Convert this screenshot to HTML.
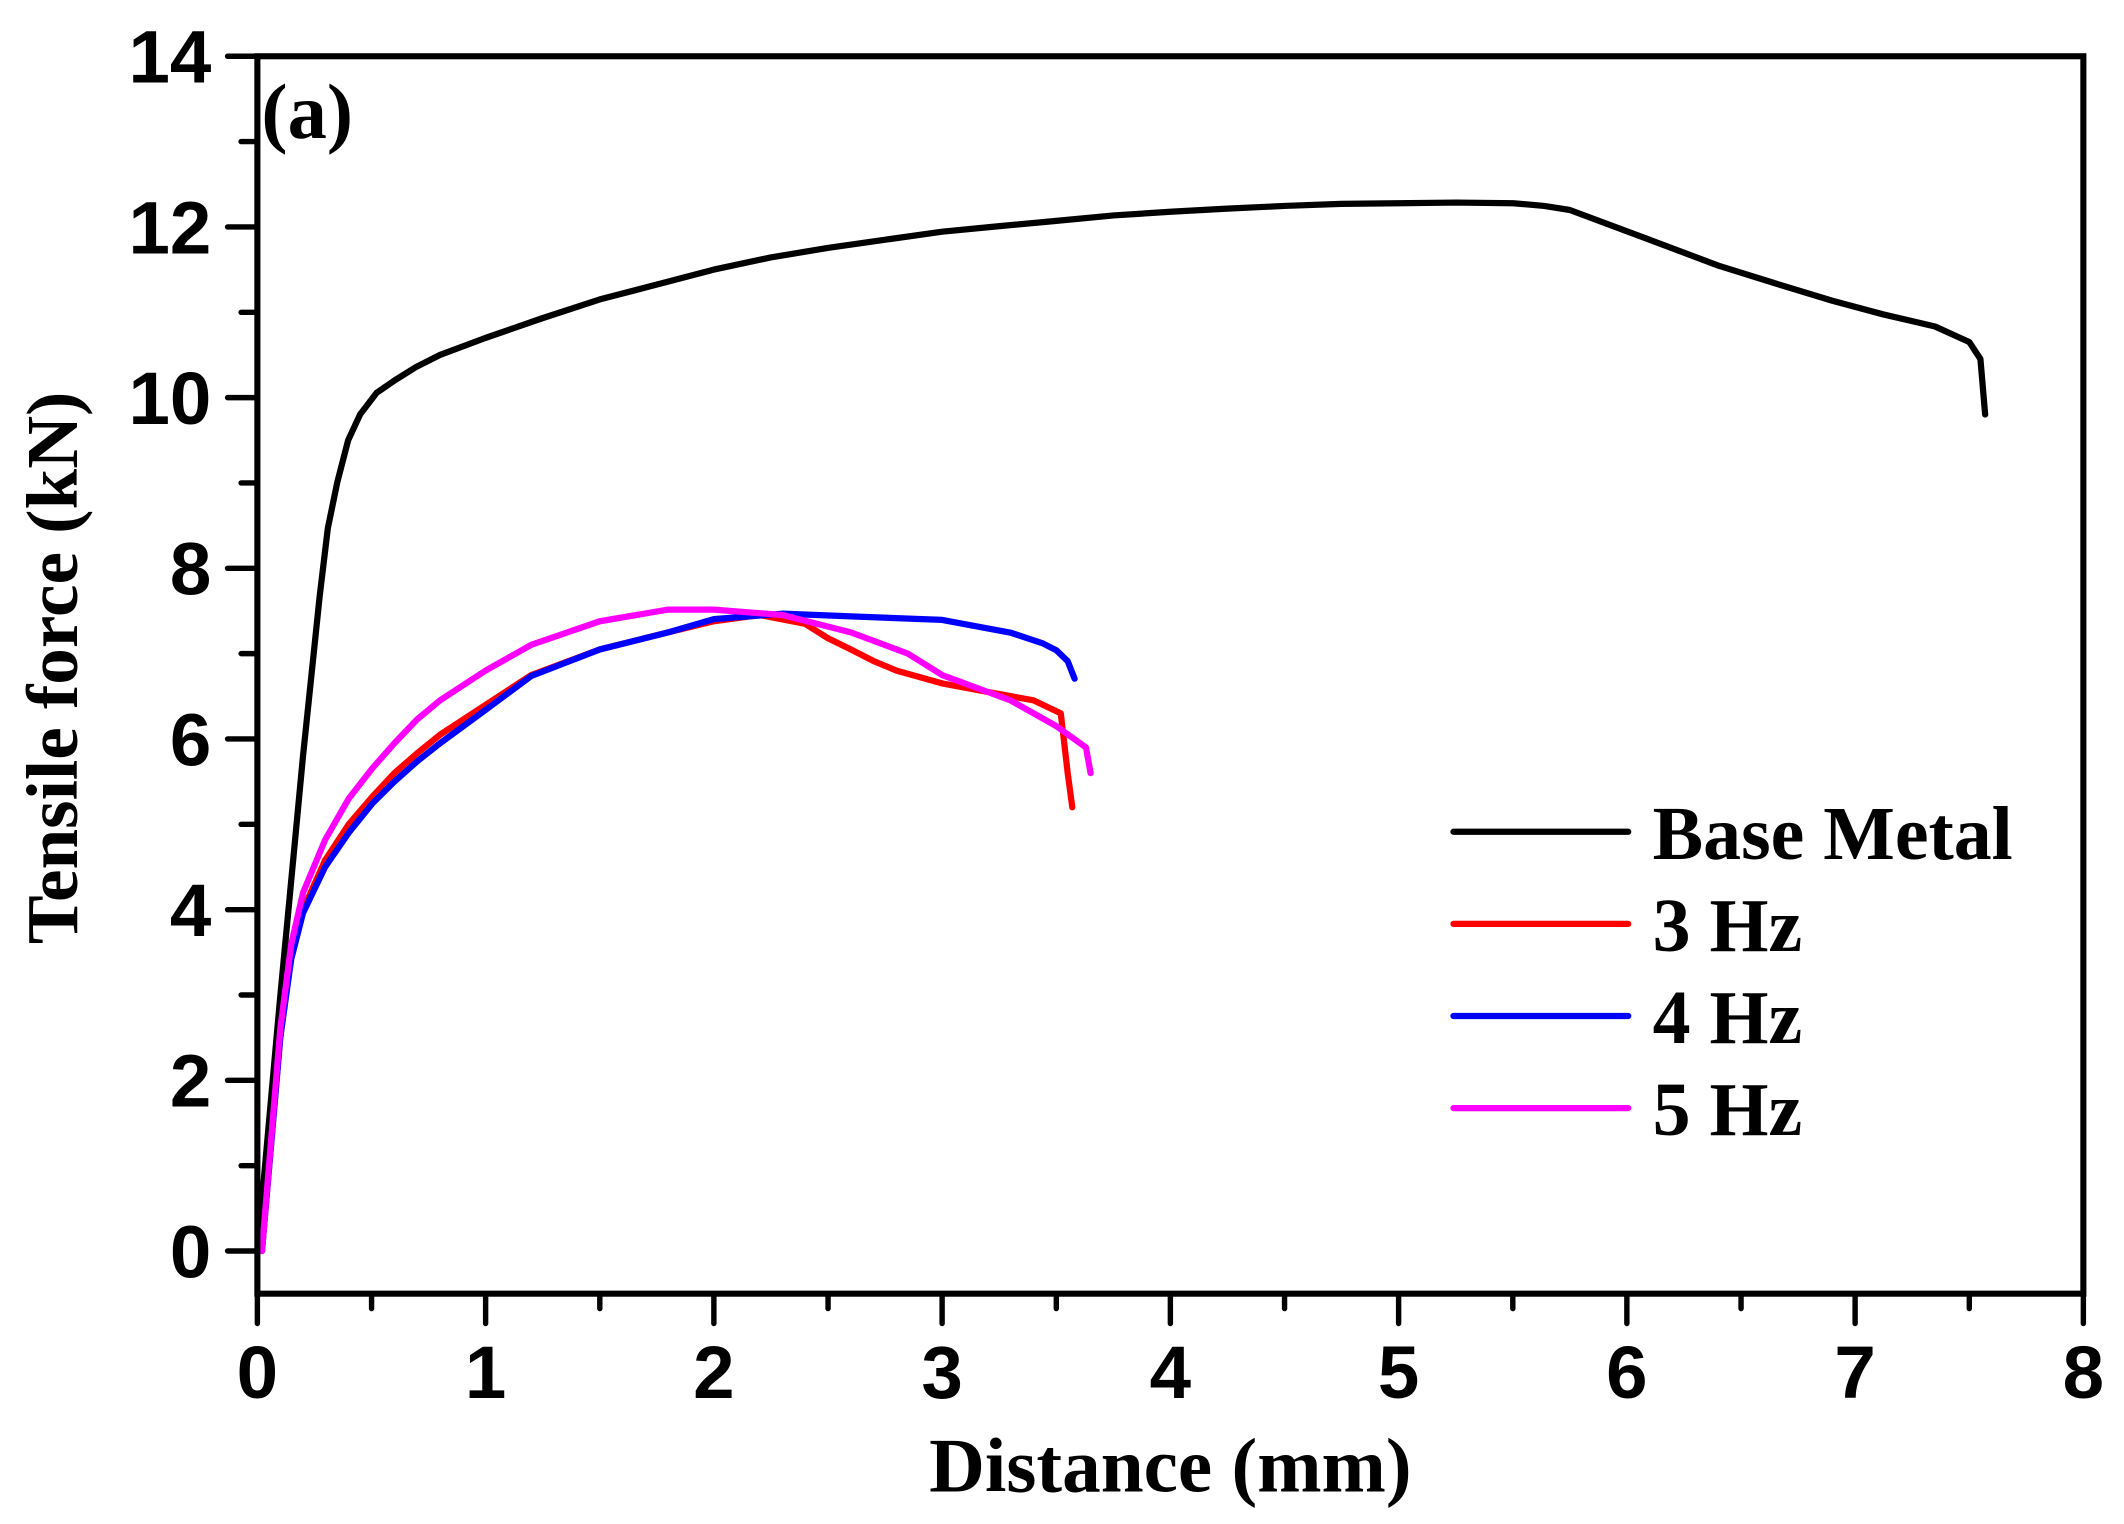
<!DOCTYPE html>
<html><head><meta charset="utf-8"><style>html,body{margin:0;padding:0;background:#fff}svg{display:block}</style></head><body>
<svg width="2124" height="1524" viewBox="0 0 1568 1125" xmlns="http://www.w3.org/2000/svg">
<rect width="1568" height="1125" fill="#fff"/>
<g fill="none" stroke-linejoin="round" stroke-linecap="round" stroke-width="4.6">
<polyline stroke="#000" points="190,923.5 207,734.5 223.7,558 236,440 242,390 249,356 257,325 265.8,306 278,290 291,281 307,271 324.8,262 358.5,249.4 400,235 442.8,221 485,210 527,199 569,190 611,183 653,177 695.5,171 737,167 779.8,163 822,159 864,156.3 906,154 948,152 990,150.5 1032.5,150 1075,149.5 1117,150 1140,152 1158.9,155 1217.9,177 1268.4,196 1310,209 1352.7,222 1390,232 1428.5,241 1453.8,252.5 1462,265 1465.5,306"/>
<polyline stroke="#ff0000" points="193.4,923.5 206.9,766 215,705 223.7,671.5 240,635 257.4,608.5 275,588 291.1,570.7 308,556 324.8,542.4 358.5,520.3 392.2,498.3 442.8,479.4 493.3,466.8 527,458.6 560.7,454 594.4,460.5 611,471 628.1,479.4 645,488 661.8,495 695.5,504.5 729.2,510.8 762.9,517 783.1,526.6 788.2,570.7 791.6,595.9"/>
<polyline stroke="#0000ff" points="193.4,923.5 206.9,766 215,708 223.7,674 240,640 257.4,614.8 275,593 291.1,577 308,562 324.8,548.7 358.5,524 392.2,499 442.8,479.4 493.3,466.8 527,457 577.5,453 628.1,455 695.5,457.6 746,467 770,475 779.8,480 788.2,488 793.3,501"/>
<polyline stroke="#ff00ff" points="193.4,923.5 206.9,759.7 215,697 223.7,659 240,620 257.4,589.6 275,567 291.1,548.7 308,531 324.8,517 358.5,495 392.2,476 442.8,458.6 493.3,450 527,450 577.5,454 628.1,466.8 670.2,482.5 695.5,498.3 746,517 779.8,536 801.7,551.8 805.1,570.7"/>
</g>
<g stroke="#000" stroke-width="4.5" stroke-linecap="round" fill="none">
<rect x="190" y="41.5" width="1348" height="913.5"/>
</g>
<g stroke="#000" stroke-width="4" stroke-linecap="round">
<line x1="168" y1="923.5" x2="190" y2="923.5"/><line x1="168" y1="797.5" x2="190" y2="797.5"/><line x1="168" y1="671.5" x2="190" y2="671.5"/><line x1="168" y1="545.5" x2="190" y2="545.5"/><line x1="168" y1="419.5" x2="190" y2="419.5"/><line x1="168" y1="293.5" x2="190" y2="293.5"/><line x1="168" y1="167.5" x2="190" y2="167.5"/><line x1="168" y1="41.5" x2="190" y2="41.5"/>
<line x1="178" y1="860.5" x2="190" y2="860.5"/><line x1="178" y1="734.5" x2="190" y2="734.5"/><line x1="178" y1="608.5" x2="190" y2="608.5"/><line x1="178" y1="482.5" x2="190" y2="482.5"/><line x1="178" y1="356.5" x2="190" y2="356.5"/><line x1="178" y1="230.5" x2="190" y2="230.5"/><line x1="178" y1="104.5" x2="190" y2="104.5"/>
<line x1="190" y1="955" x2="190" y2="977"/><line x1="358.5" y1="955" x2="358.5" y2="977"/><line x1="527" y1="955" x2="527" y2="977"/><line x1="695.5" y1="955" x2="695.5" y2="977"/><line x1="864" y1="955" x2="864" y2="977"/><line x1="1032.5" y1="955" x2="1032.5" y2="977"/><line x1="1201" y1="955" x2="1201" y2="977"/><line x1="1369.5" y1="955" x2="1369.5" y2="977"/><line x1="1538" y1="955" x2="1538" y2="977"/>
<line x1="274.3" y1="955" x2="274.3" y2="966"/><line x1="442.8" y1="955" x2="442.8" y2="966"/><line x1="611.3" y1="955" x2="611.3" y2="966"/><line x1="779.8" y1="955" x2="779.8" y2="966"/><line x1="948.3" y1="955" x2="948.3" y2="966"/><line x1="1116.8" y1="955" x2="1116.8" y2="966"/><line x1="1285.3" y1="955" x2="1285.3" y2="966"/><line x1="1453.8" y1="955" x2="1453.8" y2="966"/>
</g>
<g font-family="Liberation Sans, sans-serif" font-weight="bold" font-size="55" fill="#000">
<g text-anchor="end">
<text x="156" y="943">0</text><text x="156" y="817">2</text><text x="156" y="691">4</text><text x="156" y="565">6</text><text x="156" y="439">8</text><text x="156" y="313">10</text><text x="156" y="187">12</text><text x="156" y="61">14</text>
</g>
<g text-anchor="middle">
<text x="190" y="1032">0</text><text x="358.5" y="1032">1</text><text x="527" y="1032">2</text><text x="695.5" y="1032">3</text><text x="864" y="1032">4</text><text x="1032.5" y="1032">5</text><text x="1201" y="1032">6</text><text x="1369.5" y="1032">7</text><text x="1538" y="1032">8</text>
</g>
</g>
<g font-family="Liberation Serif, serif" font-weight="bold" fill="#000">
<text x="864" y="1101" font-size="57" text-anchor="middle">Distance (mm)</text>
<text transform="translate(57,493) rotate(-90)" font-size="54" text-anchor="middle">Tensile force (kN)</text>
<text x="193" y="102" font-size="58">(a)</text>
<g font-size="56">
<text x="1220" y="634">Base Metal</text><text x="1220" y="702">3 Hz</text><text x="1220" y="770">4 Hz</text><text x="1220" y="838">5 Hz</text>
</g>
</g>
<g stroke-width="4.6" stroke-linecap="round">
<line x1="1073" y1="614" x2="1202" y2="614" stroke="#000"/>
<line x1="1073" y1="682" x2="1202" y2="682" stroke="#ff0000"/>
<line x1="1073" y1="750" x2="1202" y2="750" stroke="#0000ff"/>
<line x1="1073" y1="818" x2="1202" y2="818" stroke="#ff00ff"/>
</g>
</svg>
</body></html>
